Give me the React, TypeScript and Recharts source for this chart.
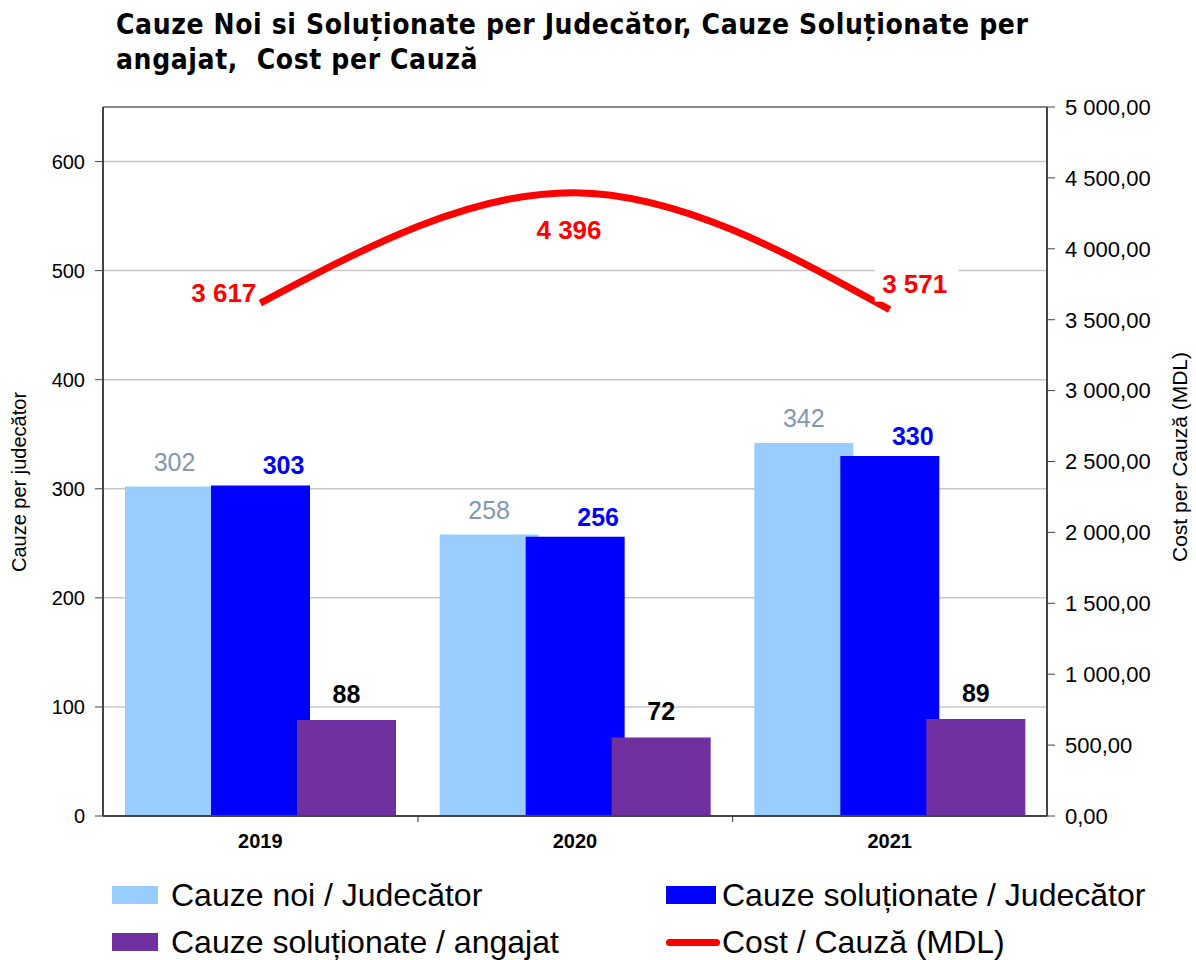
import React from 'react';
import {
  ComposedChart,
  Bar,
  Line,
  XAxis,
  YAxis,
  CartesianGrid,
  LabelList,
  ReferenceLine,
} from 'recharts';

const years = ['2019', '2020', '2021'];
const cauzeNoi = [302, 258, 342];
const solutionateJudecator = [303, 256, 330];
const solutionateAngajat = [88, 72, 89];
const costCauza = [3617, 4396, 3571];
const leftTicks = [0, 100, 200, 300, 400, 500, 600];
const rightTicks = [0, 500, 1000, 1500, 2000, 2500, 3000, 3500, 4000, 4500, 5000];

const data = years.map((year, i) => ({
  year,
  noi: cauzeNoi[i],
  solJud: solutionateJudecator[i],
  solAng: solutionateAngajat[i],
  cost: costCauza[i],
}));

const FONT = "'Liberation Sans', Arial, sans-serif";

const groupThousands = (s: string) => s.replace(/\B(?=(\d{3})+(?!\d))/g, ' ');
const fmtCost = (v: number) => {
  const [int, dec] = v.toFixed(2).split('.');
  return groupThousands(int) + ',' + dec;
};

const barLabel = (color: string, bold: boolean, dx: number, lift: number) => (props: any) => {
  const { x, y, width, value } = props;
  return (
    <text
      x={x + width / 2 + dx}
      y={y - lift}
      textAnchor="middle"
      dominantBaseline="central"
      fill={color}
      fontSize={25}
      fontWeight={bold ? 'bold' : 'normal'}
      fontFamily={FONT}
    >
      {value}
    </text>
  );
};

const CostLabel = (props: any) => {
  const { x, y, value, index } = props;
  const txt = groupThousands(String(value));
  const common = {
    fill: '#ff0000',
    fontSize: 26,
    fontWeight: 'bold' as const,
    fontFamily: FONT,
    dominantBaseline: 'central' as const,
  };
  if (index === 0) {
    return (
      <text x={x - 4} y={y - 10} textAnchor="end" {...common}>
        {txt}
      </text>
    );
  }
  if (index === 1) {
    return (
      <text x={x - 6} y={y + 37} textAnchor="middle" {...common}>
        {txt}
      </text>
    );
  }
  return (
    <g>
      <rect x={x - 15} y={y - 44} width={84} height={36} fill="#fff" />
      <text x={x + 25} y={y - 26} textAnchor="middle" {...common}>
        {txt}
      </text>
    </g>
  );
};

const YearTick = (props: any) => {
  const { x, y, payload, index } = props;
  return (
    <g>
      {index > 0 && <line x1={x - 157} x2={x - 157} y1={y - 8} y2={y - 2} stroke="#333" strokeWidth={1} />}
      <text
        x={x}
        y={y + 17}
        textAnchor="middle"
        dominantBaseline="central"
        fontSize={20}
        fontWeight="bold"
        fontFamily={FONT}
        fill="#000"
      >
        {payload.value}
      </text>
    </g>
  );
};

const Swatch = ({ color, w, mr }: { color: string; w: number; mr: number }) => (
  <span style={{ display: 'inline-block', width: w, height: 18, background: color, marginRight: mr }} />
);

export default function App() {
  return (
    <div style={{ position: 'absolute', left: 0, top: 0, width: 1196, height: 960, background: '#fff', fontFamily: FONT }}>
      <div
        style={{
          position: 'absolute',
          left: 116,
          top: 7,
          width: 1000,
          fontSize: 28,
          lineHeight: '35px',
          letterSpacing: 0.6,
          fontWeight: 'bold',
          fontFamily: "'DejaVu Sans Condensed', 'DejaVu Sans', sans-serif",
          color: '#000',
          whiteSpace: 'nowrap',
        }}
      >
        Cauze Noi si Soluționate per Judecător, Cauze Soluționate per
        <br />
        angajat,&nbsp; Cost per Cauză
      </div>

      <ComposedChart
        width={1196}
        height={960}
        data={data}
        margin={{ top: 107, right: 0, bottom: 104, left: 0 }}
        barGap={-13}
      >
        <CartesianGrid yAxisId="left" vertical={false} stroke="#c8c8c8" strokeWidth={1.5} />
        <XAxis
          dataKey="year"
          height={40}
          axisLine={{ stroke: '#444', strokeWidth: 2 }}
          tickLine={false}
          tick={<YearTick />}
          interval={0}
        />
        <YAxis
          yAxisId="left"
          width={103}
          domain={[0, 650]}
          ticks={leftTicks}
          interval={0}
          axisLine={{ stroke: '#444', strokeWidth: 2 }}
          tickLine={{ stroke: '#444' }}
          tickSize={8}
          tick={{ fill: '#000', fontSize: 20, fontFamily: FONT, dx: -8 }}
        />
        <YAxis
          yAxisId="right"
          orientation="right"
          width={149}
          domain={[0, 5000]}
          ticks={rightTicks}
          interval={0}
          axisLine={{ stroke: '#444', strokeWidth: 2 }}
          tickLine={{ stroke: '#444' }}
          tickSize={8}
          tickFormatter={fmtCost}
          tick={{ fill: '#000', fontSize: 22, fontFamily: FONT, textAnchor: 'start', dx: 8 }}
        />
        <ReferenceLine yAxisId="left" y={650} stroke="#888" strokeWidth={2} />
        <Bar yAxisId="left" dataKey="noi" fill="#99ccff" barSize={99} isAnimationActive={false}>
          <LabelList dataKey="noi" content={barLabel('#8497b0', false, 0, 25)} />
        </Bar>
        <Bar yAxisId="left" dataKey="solJud" fill="#0000ff" barSize={99} isAnimationActive={false}>
          <LabelList dataKey="solJud" content={barLabel('#0000ff', true, 23, 20)} />
        </Bar>
        <Bar yAxisId="left" dataKey="solAng" fill="#7030a0" barSize={99} isAnimationActive={false}>
          <LabelList dataKey="solAng" content={barLabel('#000000', true, 0, 26)} />
        </Bar>
        <Line
          yAxisId="right"
          type="natural"
          dataKey="cost"
          stroke="#ff0000"
          strokeWidth={7}
          dot={false}
          isAnimationActive={false}
        >
          <LabelList dataKey="cost" content={<CostLabel />} />
        </Line>
      </ComposedChart>

      <div
        style={{
          position: 'absolute',
          left: 19 - 110,
          top: 482 - 12,
          width: 220,
          textAlign: 'center',
          fontSize: 20,
          lineHeight: '24px',
          transform: 'rotate(-90deg)',
          whiteSpace: 'nowrap',
        }}
      >
        Cauze per judecător
      </div>
      <div
        style={{
          position: 'absolute',
          left: 1180 - 120,
          top: 457 - 12,
          width: 240,
          textAlign: 'center',
          fontSize: 21,
          lineHeight: '24px',
          transform: 'rotate(-90deg)',
          whiteSpace: 'nowrap',
        }}
      >
        Cost per Cauză (MDL)
      </div>

      <div style={{ position: 'absolute', left: 112, top: 875, fontSize: 32, lineHeight: '40px', color: '#000', whiteSpace: 'nowrap' }}>
        <div style={{ display: 'flex', alignItems: 'center' }}>
          <Swatch color="#99ccff" w={46} mr={13} />
          Cauze noi / Judecător
        </div>
        <div style={{ display: 'flex', alignItems: 'center', marginTop: 7 }}>
          <Swatch color="#7030a0" w={46} mr={13} />
          Cauze soluționate / angajat
        </div>
      </div>
      <div style={{ position: 'absolute', left: 666, top: 875, fontSize: 32, lineHeight: '40px', color: '#000', whiteSpace: 'nowrap' }}>
        <div style={{ display: 'flex', alignItems: 'center' }}>
          <Swatch color="#0000ff" w={50} mr={6} />
          Cauze soluționate / Judecător
        </div>
        <div style={{ display: 'flex', alignItems: 'center', marginTop: 7 }}>
          <span
            style={{ display: 'inline-block', width: 54, height: 7, borderRadius: 4, background: '#ff0000', marginRight: 2 }}
          />
          Cost / Cauză (MDL)
        </div>
      </div>
    </div>
  );
}
